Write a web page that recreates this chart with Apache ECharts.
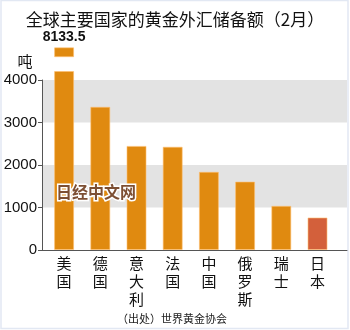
<!DOCTYPE html>
<html><head><meta charset="utf-8">
<script src="https://cdn.jsdelivr.net/npm/echarts@6/dist/echarts.min.js"></script>
<style>html,body{margin:0;padding:0;background:#fff}#c{width:350px;height:330px}</style>
</head><body><div id="c"></div>
<script>
const titleText = '全球主要国家的黄金外汇储备额（2月）';
const categories = ['美国', '德国', '意大利', '法国', '中国', '俄罗斯', '瑞士', '日本'];
const values = [8133.5, 3370, 2450, 2430, 1840, 1610, 1040, 765];
const yTicks = [0, 1000, 2000, 3000, 4000];
const unitLabel = '吨';
const sourceText = '（出处）世界黄金协会';
const watermark = '日经中文网';
const highlightCategory = '日本';

const breakLow = 4200;   // lower panel top value
const breakHigh = 7912;  // upper panel bottom value

const orange = '#E08A10';
const red = '#D3603B';
const cjk = '"Noto Sans CJK SC", "Noto Sans", sans-serif';
const num = '"Liberation Sans", Arial, sans-serif';

const chart = echarts.init(document.getElementById('c'), null, {renderer: 'canvas'});
const itemColor = (p) => categories[p.dataIndex] === highlightCategory ? red : orange;

chart.setOption({
  animation: false,
  title: {text: titleText, left: 'center', top: 6,
    textStyle: {fontSize: 17, fontWeight: 'normal', color: '#111', fontFamily: cjk}},
  grid: [
    {left: 42, right: 3, top: 80, bottom: 80},
    {left: 46, right: 14.4, top: 71.5, bottom: 80},
    {left: 46, right: 14.4, top: 47.3, height: 9.4}
  ],
  xAxis: [
    {gridIndex: 0, type: 'value', min: 0, max: 1, axisLine: {show: true, lineStyle: {color: '#555', width: 1}},
      axisTick: {show: false}, axisLabel: {show: false}, splitLine: {show: false}},
    {gridIndex: 1, type: 'category', data: categories, axisLine: {show: false}, axisTick: {show: false},
      axisLabel: {margin: 4, fontSize: 15, lineHeight: 18, color: '#111', fontFamily: cjk, interval: 0,
        formatter: (v) => v.split('').join('\n')}},
    {gridIndex: 2, type: 'category', data: categories, show: false}
  ],
  yAxis: [
    {gridIndex: 0, type: 'value', min: yTicks[0], max: yTicks[yTicks.length - 1], interval: 1000,
      axisLine: {show: true, lineStyle: {color: '#555'}},
      axisTick: {show: true, length: 4, lineStyle: {color: '#555'}},
      axisLabel: {fontSize: 15, color: '#111', margin: 5, fontFamily: num, formatter: (v) => String(v)},
      splitLine: {show: false},
      splitArea: {show: true, areaStyle: {color: ['rgba(255,255,255,0)', '#e3e3e3']}}},
    {gridIndex: 1, type: 'value', min: 0, max: breakLow, show: false, splitLine: {show: false}},
    {gridIndex: 2, type: 'value', min: breakHigh, max: 8133.5, show: false, splitLine: {show: false}}
  ],
  series: [
    {type: 'bar', xAxisIndex: 1, yAxisIndex: 1, data: values, barWidth: 20, clip: true,
      itemStyle: {color: itemColor, borderColor: 'rgba(255,190,110,0.6)', borderWidth: 1}},
    {type: 'bar', xAxisIndex: 2, yAxisIndex: 2, data: values.map(v => v > breakHigh ? v : '-'),
      barWidth: 20, clip: true,
      itemStyle: {color: itemColor, borderColor: 'rgba(255,190,110,0.6)', borderWidth: 1},
      label: {show: true, position: 'top', distance: 3, fontSize: 14, fontWeight: 'bold', color: '#111',
        fontFamily: num}}
  ],
  graphic: [
    {type: 'rect', shape: {x: 1, y: 0.5, width: 347, height: 328}, style: {fill: 'none', stroke: '#e2e8f3', lineWidth: 1.5}, silent: true},
    {type: 'text', x: 25, y: 61, style: {text: unitLabel, font: '15px ' + cjk, fill: '#111', textAlign: 'center', textVerticalAlign: 'middle'}},
    {type: 'text', x: 96, y: 192, z: 100, style: {text: watermark, font: 'bold 16px ' + cjk, fill: '#7d4f33', stroke: '#fff', lineWidth: 3, textAlign: 'center', textVerticalAlign: 'middle', shadowColor: 'rgba(80,40,20,0.5)', shadowBlur: 2, shadowOffsetX: 1, shadowOffsetY: 1}},
    {type: 'text', x: 172, y: 319, style: {text: sourceText, font: '11px ' + cjk, fill: '#222', textAlign: 'center', textVerticalAlign: 'middle'}}
  ]
});
</script></body></html>
